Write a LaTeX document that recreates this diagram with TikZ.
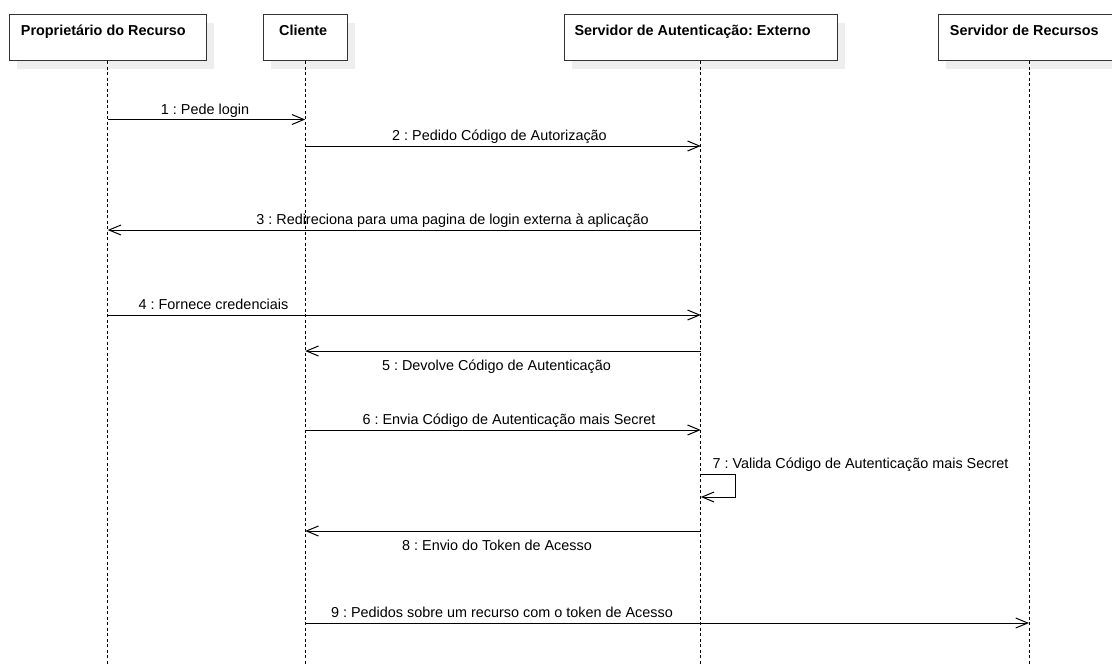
\documentclass[tikz,border=0pt]{standalone}
\usepackage{fontspec}
\setmainfont{Liberation Sans}
\usetikzlibrary{arrows.meta,shadows}
\definecolor{shadowgray}{HTML}{EEEEEE}
\definecolor{framegray}{HTML}{333333}
\frenchspacing
\begin{document}
\frenchspacing
\begin{tikzpicture}[x=1pt,y=-1pt,
  txt/.style={font=\fontsize{14.4}{17}\selectfont, inner sep=0pt},
  headbox/.style={draw=framegray, line width=1pt, fill=white, minimum height=46pt,
    inner sep=0pt, anchor=north,
    general shadow={fill=shadowgray, draw=none, shadow xshift=8pt, shadow yshift=-8pt}},
  headtext/.style={txt, font=\fontsize{14.4}{17}\selectfont\bfseries, anchor=base west},
  lifeline/.style={line width=1pt, dash pattern=on 3pt off 2.5pt},
  msg/.style={line width=1pt, -{Straight Barb[length=12pt,width=10pt,line width=1pt]}},
  msglabel/.style={txt, anchor=base}
]
\clip (0,0) rectangle (1112,664);
\useasboundingbox (0,0) rectangle (1112,664);

% participant boxes
\node[headbox, minimum width=197.4pt] (owner)  at (107.7,14) {};
\node[headbox, minimum width=84.4pt]  (client) at (305.2,14) {};
\node[headbox, minimum width=273pt]   (auth)   at (700.8,14) {};
\node[headbox, minimum width=182pt]   (res)    at (1029,14)  {};

\node[headtext] (ownerT)  at (20.7,35)  {Proprietário do Recurso};
\node[headtext] (clientT) at (279,35)   {Cliente};
\node[headtext] (authT)   at (574.3,35) {Servidor de Autenticação: Externo};
\node[headtext] (resT)    at (949.7,35) {Servidor de Recursos};

% lifelines
\coordinate (bottom) at (0,664);
\foreach \p in {owner,client,auth,res}
  \draw[lifeline] (\p.south) -- (\p.south |- bottom);

% message rows
\coordinate (r1) at (0,119.5);
\coordinate (r2) at (0,146);
\coordinate (r3) at (0,230);
\coordinate (r4) at (0,315);
\coordinate (r5) at (0,351);
\coordinate (r6) at (0,430);
\coordinate (r7a) at (0,474);
\coordinate (r7b) at (0,497);
\coordinate (r8) at (0,531);
\coordinate (r9) at (0,623);
\coordinate (loopx) at (735,0);

\draw[msg] (owner.south |- r1) -- (client.south |- r1);
\draw[msg] (client.south |- r2) -- (auth.south |- r2);
\draw[msg] (auth.south |- r3) -- (owner.south |- r3);
\draw[msg] (owner.south |- r4) -- (auth.south |- r4);
\draw[msg] (auth.south |- r5) -- (client.south |- r5);
\draw[msg] (client.south |- r6) -- (auth.south |- r6);
\draw[msg] (auth.south |- r7a) -- (loopx |- r7a) -- (loopx |- r7b) -- (auth.south |- r7b);
\draw[msg] (auth.south |- r8) -- (client.south |- r8);
\draw[msg] (client.south |- r9) -- (res.south |- r9);

% message labels
\node[msglabel] (m1) at (205,114)   {1 : Pede login};
\node[msglabel] (m2) at (499.5,140.5) {2 : Pedido Código de Autorização};
\node[msglabel] (m3) at (452.5,224.5) {3 : Redireciona para uma pagina de login externa à aplicação};
\node[msglabel] (m4) at (213.5,309.5) {4 : Fornece credenciais};
\node[msglabel] (m5) at (496.5,370)   {5 : Devolve Código de Autenticação};
\node[msglabel] (m6) at (509,424.5)   {6 : Envia Código de Autenticação mais Secret};
\node[txt, anchor=base west] (m7) at (712.3,468.5) {7 : Valida Código de Autenticação mais Secret};
\node[msglabel] (m8) at (497,550)     {8 : Envio do Token de Acesso};
\node[msglabel] (m9) at (502,617.5)   {9 : Pedidos sobre um recurso com o token de Acesso};
\end{tikzpicture}
\end{document}
